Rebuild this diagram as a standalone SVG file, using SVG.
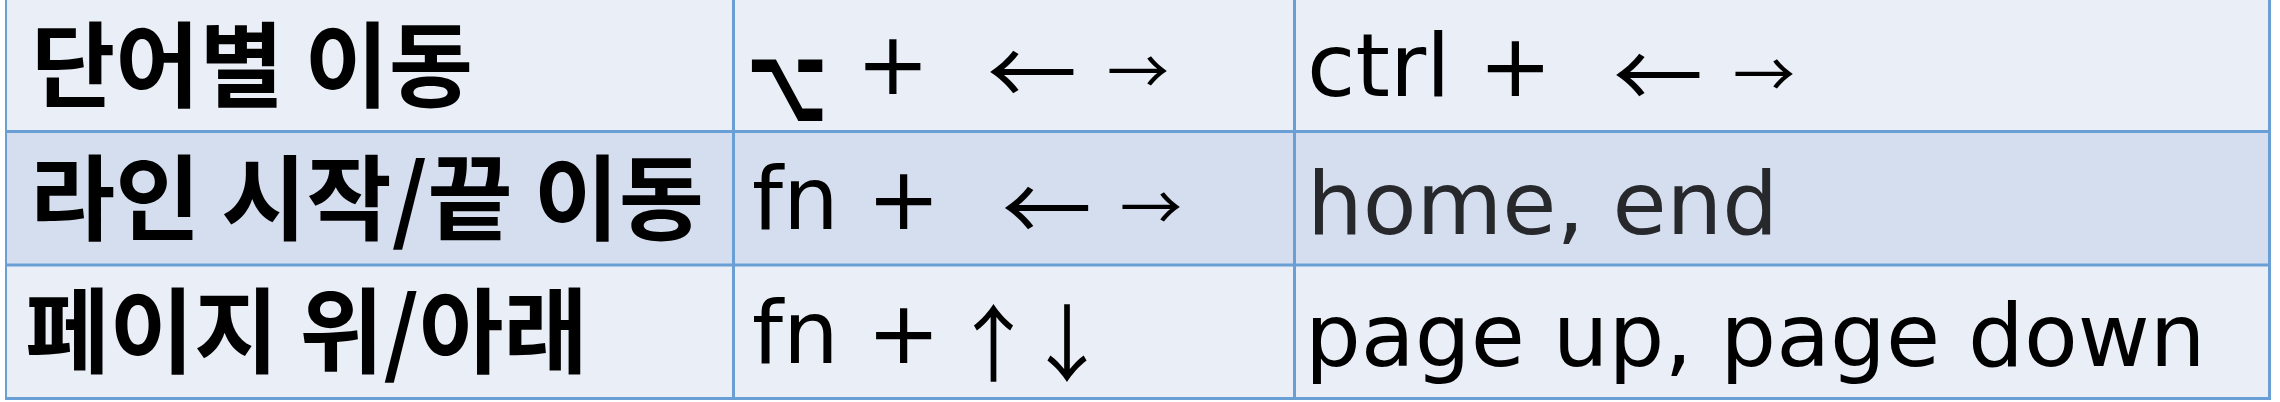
<svg xmlns="http://www.w3.org/2000/svg" width="2280" height="402" viewBox="0 0 2280 402">
<style>
.lt{fill:#EAEFF7}
.dk{fill:#D4DEEE}
.ln{stroke:#6A9FD6;stroke-width:3;fill:none}
.ko{font-family:"Noto Sans CJK KR","Noto Sans CJK SC",sans-serif;font-weight:700;font-size:93px;fill:#000}
.en{font-family:"DejaVu Sans","Noto Sans CJK KR",sans-serif;font-size:88px;fill:#000}
.ar{font-family:"Noto Sans CJK KR","DejaVu Sans",sans-serif;fill:#000;text-anchor:middle}
</style>
<rect x="0" y="0" width="2280" height="402" fill="#FFFFFF"/>
<g id="row1">
<rect class="lt" x="6" y="0" width="2263.5" height="131.5"/>
<text class="ko" x="31" y="100" textLength="442" lengthAdjust="spacingAndGlyphs">단어별 이동</text>
<text class="en" x="0" y="0" font-size="70" text-anchor="middle" font-weight="700" transform="translate(787 120.5) scale(0.8 1.22)">⌥</text>
<text class="en" x="856" y="94">+</text>
<text class="ar" x="1032" y="105.6" font-size="90">←</text>
<text class="ar" x="1138" y="95" font-size="62">→</text>
<text class="en" x="1307" y="96">ctrl +</text>
<text class="ar" x="1658" y="108.9" font-size="90">←</text>
<text class="ar" x="1764" y="98.3" font-size="62">→</text>
</g>
<g id="row2">
<rect class="dk" x="6" y="131.5" width="2263.5" height="133.5"/>
<text class="ko" x="30" y="233" textLength="674" lengthAdjust="spacingAndGlyphs">라인 시작/끝 이동</text>
<text class="en" x="752" y="229">fn +</text>
<text class="ar" x="1046.75" y="241.7" font-size="90">←</text>
<text class="ar" x="1151" y="231" font-size="62">→</text>
<text class="en" x="1307" y="234" style="fill:#27282C">home, end</text>
</g>
<g id="row3">
<rect class="lt" x="6" y="265" width="2263.5" height="133.5"/>
<text class="ko" x="25" y="366" textLength="563" lengthAdjust="spacingAndGlyphs">페이지 위/아래</text>
<text class="en" x="752" y="363">fn +</text>
<text class="ar" x="993.5" y="375" font-size="84">↑</text>
<text class="ar" x="1067" y="375" font-size="84">↓</text>
<text class="en" x="1305" y="365.5" font-size="87">page up, page down</text>
</g>
<g id="connectors">
<line class="ln" x1="6" y1="131.5" x2="2271" y2="131.5"/>
<line class="ln" x1="6" y1="265" x2="2271" y2="265"/>
<line class="ln" x1="5" y1="398.5" x2="2271" y2="398.5"/>
<line x1="6" y1="0" x2="6" y2="400" stroke="#6A9FD6" stroke-width="2"/>
<line class="ln" x1="733.5" y1="0" x2="733.5" y2="400"/>
<line class="ln" x1="1294.5" y1="0" x2="1294.5" y2="400"/>
<line class="ln" x1="2269.5" y1="0" x2="2269.5" y2="400"/>
</g>
</svg>
